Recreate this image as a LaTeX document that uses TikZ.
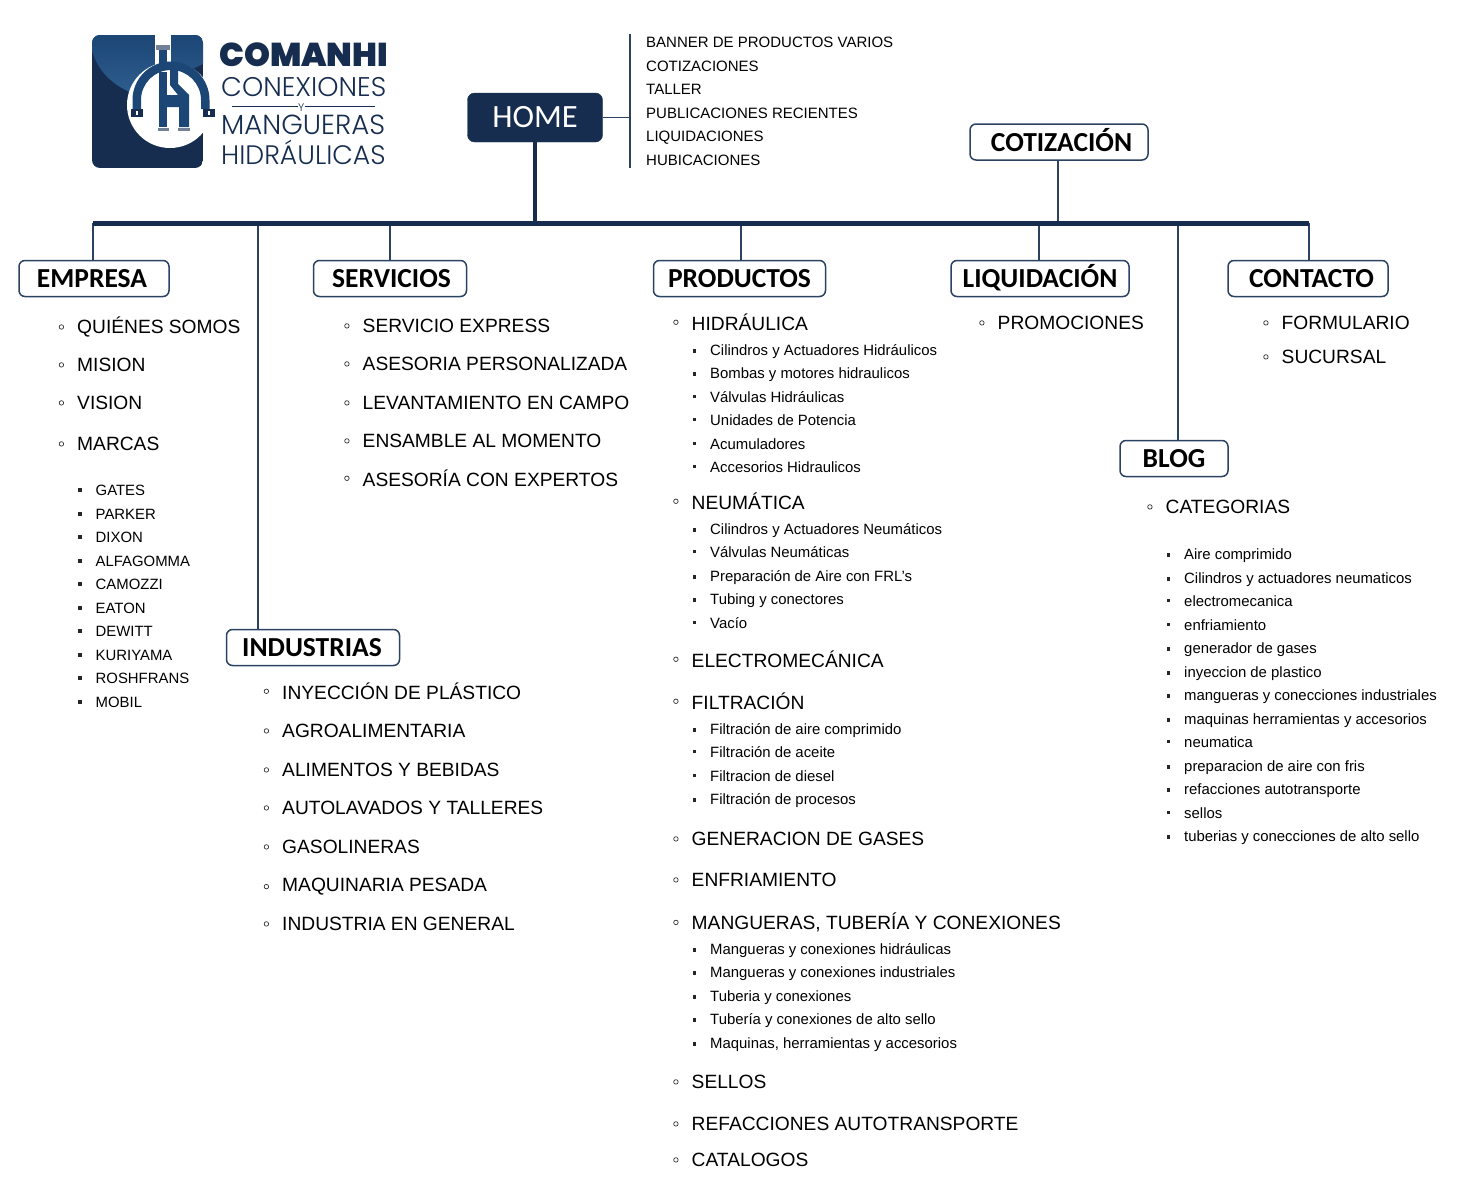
\documentclass[tikz,border=0pt]{standalone}
\usepackage{fontspec}
\setmainfont{Liberation Sans}
\newfontfamily\headfont{Carlito}
\newfontfamily\logobold{Poppins}[UprightFont=* Black]
\newfontfamily\logothin{Poppins}[UprightFont=* Light]
\usetikzlibrary{calc}
\definecolor{navy}{HTML}{162D50}
\definecolor{navyline}{HTML}{2B4262}
\definecolor{navylight}{HTML}{1B4676}
\definecolor{navyshine}{HTML}{2F5E8E}
\tikzset{
  homebox/.style={draw=navy,fill=navy,rounded corners=7pt,text=white,font=\headfont\fontsize{32.5}{33}\selectfont,inner sep=0pt,text height=20pt,text depth=0pt},
  headbox/.style={draw=navyline,line width=1.5pt,fill=white,rounded corners=6pt,text=black,font=\headfont\bfseries\fontsize{27.5}{27}\selectfont,inner sep=0pt,text height=18pt,text depth=0pt,minimum height=36pt},
  trunk/.style={navy,line width=5pt},
  stem/.style={navyline,line width=1.7pt},
  topitem/.style={anchor=base west,inner sep=0pt,font=\fontsize{15}{15}\selectfont,text=black},
  bigitem/.style={anchor=base west,inner sep=0pt,yshift=.5pt,font=\fontsize{19.2}{20}\selectfont,text=black,
    label={[circle,draw=black!80,line width=.7pt,inner sep=0pt,minimum size=4.5pt,label distance=13pt]left:{}}},
  smallitem/.style={anchor=base west,inner sep=0pt,font=\fontsize{14.9}{15}\selectfont,text=black,
    label={[fill=black!85,inner sep=0pt,minimum size=3.5pt,label distance=13.5pt]left:{}}},
  logotext/.style={font=\logothin\fontsize{#1}{12}\selectfont,text=navy,anchor=base west,inner sep=0pt},
}
\begin{document}
\begin{tikzpicture}[x=1pt,y=-1pt]
\useasboundingbox (0,0) rectangle (1469,1183);

% logo
\begin{scope}
\clip[rounded corners=8pt] (92,35) rectangle (203,168);
\fill[navy] (92,35) rectangle (203,168);
\shade[top color=navylight,bottom color=navyshine] (92,35) -| (203,64) -- (137,95) .. controls (112,86) and (97,70) .. (92,50) -- cycle;
\end{scope}
\fill[white] (170,105) circle (43);
\fill[white] (155,35) rectangle (171,70);
% pipe
\fill[navylight] (132.5,109) -- (132.5,100) arc (180:360:38.5) -- (209.5,109) -- (201,109) -- (201,100) arc (360:180:30) -- (141,109) -- cycle;
\fill[navylight] (159,50) rectangle (167,64);
\fill[navy!60] (156,45) rectangle (170,50);
\fill[navy] (131,109) rectangle (143,117);
\fill[navy] (203,109) rectangle (215,117);
\fill[white] (136,111) rectangle (138,115);
\fill[white] (208,111) rectangle (210,115);
\fill[navylight] (159,72) rectangle (167,127);
\fill[navylight] (170,69) -- (178,69) -- (178,84) -- (189,95) -- (189,127) -- (179,127) -- (179,107) -- (167,107) -- (167,95) -- (178,95) -- (170,85) -- cycle;
\fill[navy!60] (158,128) rectangle (169,131);
\fill[navy!60] (178,128) rectangle (190,131);
\node[font=\logobold\fontsize{33}{33}\selectfont,text=navy,anchor=base west,inner sep=0pt] (logoA) at (219,66) {COMANHI};
\node[logotext=27] (logoB) at (221,96) {CONEXIONES};
\node[logotext=11] (logoY) at (298,111) {Y};
\node[logotext=27.6] (logoC) at (221,134) {MANGUERAS};
\node[logotext=26.7] (logoD) at (221,164) {HIDRÁULICAS};
\coordinate (logoL) at (232,106);
\coordinate (logoR) at (375,106);
\draw[navy,line width=1pt] (logoL) -- (logoL -| logoY.west);
\draw[navy,line width=1pt] (logoR) -- (logoR -| logoY.east);

\node[homebox,minimum width=135pt,minimum height=49pt] (home) at (535,117.5) {HOME};
\node[headbox,minimum width=178pt] (cotizacion) at (1059,142) {\kern5pt COTIZACIÓN};
\node[headbox,minimum width=150pt] (empresa) at (94,278.5) {EMPRESA\kern4pt};
\node[headbox,minimum width=153pt] (servicios) at (390,278.5) {\kern3pt SERVICIOS};
\node[headbox,minimum width=172pt] (productos) at (739.5,278.5) {PRODUCTOS};
\node[headbox,minimum width=178pt] (liquidacion) at (1040,278.5) {LIQUIDACIÓN};
\node[headbox,minimum width=160pt] (contacto) at (1308,278.5) {\kern7pt CONTACTO};
\node[headbox,minimum width=108pt] (blog) at (1174,458.5) {BLOG};
\node[headbox,minimum width=173pt] (industrias) at (313,647.5) {INDUSTRIAS\kern2pt};

% lines
\coordinate (trunkL) at (93,223);
\coordinate (trunkR) at (1309,223);
\coordinate (barT) at (630,34);
\coordinate (barB) at (630,168);
\draw[stem] (barT) -- (barB);
\draw[stem] (home.east) -- (home.east -| barT);
\draw[stem] (trunkL) -- (empresa.north -| trunkL);
\draw[stem] (258,223) coordinate (indTop) -- (indTop |- industrias.north);
\draw[stem] (servicios.north) -- (servicios.north |- trunkL);
\draw[stem] (741,223) coordinate (prodTop) -- (prodTop |- productos.north);
\draw[stem] (1039,223) coordinate (liqTop) -- (liqTop |- liquidacion.north);
\draw[stem] (1178,223) coordinate (blogTop) -- (blogTop |- blog.north);
\draw[stem] (trunkR) -- (trunkR |- contacto.north);
\draw[stem] (1058,223) coordinate (cotTop) -- (cotTop |- cotizacion.south);
\draw[trunk,line width=4.5pt] (home.south) -- (home.south |- trunkL);
\draw[trunk] (trunkL) -- (trunkR);

% home list
\foreach \t/\y [count=\i] in {BANNER DE PRODUCTOS VARIOS/47,COTIZACIONES/71,TALLER/94,PUBLICACIONES RECIENTES/118,LIQUIDACIONES/141,HUBICACIONES/165}
  \node[topitem] (top\i) at (646,\y) {\t};

% empresa
\foreach \t/\y [count=\i] in {QUIÉNES SOMOS/334,MISION/372,VISION/410,MARCAS/451}
  \node[bigitem] (emp\i) at (77,\y) {\t};
\foreach \t/\y [count=\i] in {GATES/495,PARKER/519,DIXON/542,ALFAGOMMA/566,CAMOZZI/589,EATON/613,DEWITT/636,KURIYAMA/660,ROSHFRANS/683,MOBIL/707}
  \node[smallitem] (mar\i) at (95.5,\y) {\t};

% servicios
\foreach \t/\y [count=\i] in {SERVICIO EXPRESS/333,ASESORIA PERSONALIZADA/371,LEVANTAMIENTO EN CAMPO/410,ENSAMBLE AL MOMENTO/448,ASESORÍA CON EXPERTOS/487}
  \node[bigitem] (ser\i) at (362.5,\y) {\t};

% industrias
\foreach \t/\y [count=\i] in {INYECCIÓN DE PLÁSTICO/700,AGROALIMENTARIA/738,ALIMENTOS Y BEBIDAS/777,AUTOLAVADOS Y TALLERES/815,GASOLINERAS/854,MAQUINARIA PESADA/892,INDUSTRIA EN GENERAL/931}
  \node[bigitem] (ind\i) at (282,\y) {\t};

% productos
\foreach \t/\y [count=\i] in {HIDRÁULICA/331,NEUMÁTICA/510,ELECTROMECÁNICA/668,FILTRACIÓN/710,GENERACION DE GASES/846,ENFRIAMIENTO/887,{MANGUERAS, TUBERÍA Y CONEXIONES}/930,SELLOS/1089,REFACCIONES AUTOTRANSPORTE/1131,CATALOGOS/1167}
  \node[bigitem] (pro\i) at (691.5,\y) {\t};
\foreach \t/\y [count=\i] in {Cilindros y Actuadores Hidráulicos/355,Bombas y motores hidraulicos/378,Válvulas Hidráulicas/402,Unidades de Potencia/425,Acumuladores/449,Accesorios Hidraulicos/472,
  Cilindros y Actuadores Neumáticos/534,Válvulas Neumáticas/557,Preparación de Aire con FRL’s/581,Tubing y conectores/604,Vacío/628,
  Filtración de aire comprimido/734,Filtración de aceite/757,Filtracion de diesel/781,Filtración de procesos/804,
  Mangueras y conexiones hidráulicas/954,Mangueras y conexiones industriales/977,Tuberia y conexiones/1001,Tubería y conexiones de alto sello/1024,{Maquinas, herramientas y accesorios}/1048}
  \node[smallitem] (sub\i) at (710,\y) {\t};

% liquidacion, contacto
\node[bigitem] (liq1) at (997.5,330) {PROMOCIONES};
\node[bigitem] (con1) at (1281.5,330) {FORMULARIO};
\node[bigitem] (con2) at (1281.5,364) {SUCURSAL};

% blog
\node[bigitem] (blg1) at (1165.5,514) {CATEGORIAS};
\foreach \t/\y [count=\i] in {Aire comprimido/559,Cilindros y actuadores neumaticos/583,electromecanica/606,enfriamiento/630,generador de gases/653,inyeccion de plastico/677,mangueras y conecciones industriales/700,maquinas herramientas y accesorios/724,neumatica/747,preparacion de aire con fris/771,refacciones autotransporte/794,sellos/818,tuberias y conecciones de alto sello/841}
  \node[smallitem] (cat\i) at (1184,\y) {\t};
\end{tikzpicture}
\end{document}
